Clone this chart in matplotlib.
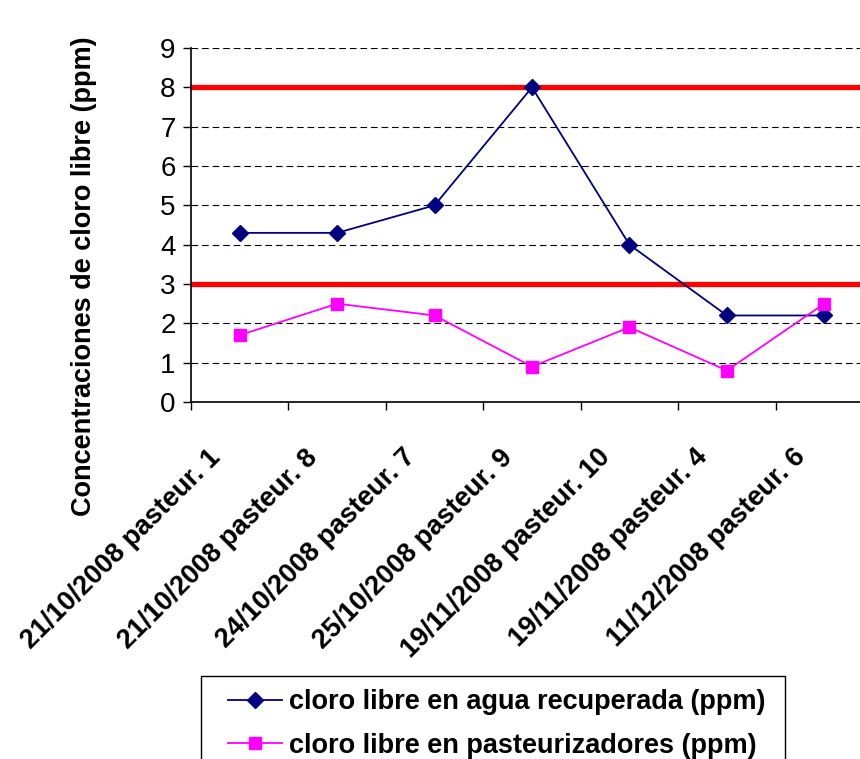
import numpy as np
import matplotlib.pyplot as plt
from matplotlib.lines import Line2D
from matplotlib.patches import Rectangle
from matplotlib.transforms import ScaledTranslation

plt.rcParams["font.family"] = ["Liberation Sans", "DejaVu Sans"]

# free chlorine readings per sampling date / pasteurizer
muestras = [
    "21/10/2008 pasteur. 1",
    "21/10/2008 pasteur. 8",
    "24/10/2008 pasteur. 7",
    "25/10/2008 pasteur. 9",
    "19/11/2008 pasteur. 10",
    "19/11/2008 pasteur. 4",
    "11/12/2008 pasteur. 6",
]
agua_recuperada = [4.3, 4.3, 5.0, 8.0, 4.0, 2.2, 2.2]
pasteurizadores = [1.7, 2.5, 2.2, 0.9, 1.9, 0.8, 2.5]
limites = [3, 8]  # acceptable range, ppm

fig = plt.figure(figsize=(8.6, 7.59), dpi=100)
ax = fig.add_axes([191 / 860, 1 - 402 / 759, 682 / 860, 354 / 759])

x = np.arange(len(muestras))
ax.plot(x, agua_recuperada, color="#000080", linewidth=1.3,
        marker="D", markersize=8, label="cloro libre en agua recuperada (ppm)")
ax.plot(x, pasteurizadores, color="#FF00FF", linewidth=1.3,
        marker="s", markersize=8.5, label="cloro libre en pasteurizadores (ppm)")
for lim in limites:
    ax.axhline(lim, color="#FF0000", linewidth=3.8, zorder=1.5)

ax.set_xlim(-0.5, len(muestras) - 0.5)
ax.set_ylim(0, 9)
ax.set_yticks(range(10))
ax.yaxis.grid(True, color="black", linestyle=(0, (6, 3.5)), linewidth=0.8)
ax.set_axisbelow(True)

for sp in ["top", "right"]:
    ax.spines[sp].set_visible(False)
for sp in ["left", "bottom"]:
    ax.spines[sp].set_linewidth(1.2)

ax.tick_params(axis="y", length=6, width=1, pad=5, labelsize=20)

# labels centred on categories, tick marks on category boundaries
ax.set_xticks(x)
ax.set_xticklabels(muestras, rotation=45, ha="right", va="center",
                   rotation_mode="anchor", fontsize=19.5, fontweight="bold")
ax.tick_params(axis="x", which="major", length=0, pad=37)
ax.set_xticks(np.arange(-0.5, len(muestras), 1), minor=True)
ax.tick_params(axis="x", which="minor", length=6, width=1)
shift = ScaledTranslation(-23 / 100, 0, fig.dpi_scale_trans)
for lab in ax.get_xticklabels():
    lab.set_transform(lab.get_transform() + shift)

ax.set_ylabel("Concentraciones de cloro libre (ppm)", fontsize=19.5, fontweight="bold")
ax.yaxis.set_label_coords((97 - 191) / 682, (402 - 276) / 354)

# legend box drawn separately so it can run off the bottom edge
fig.patches.append(Rectangle((201 / 860, -0.05), 584 / 860, 0.05 + 1 - 676 / 759,
                             transform=fig.transFigure, facecolor="white",
                             edgecolor="black", linewidth=1))
handles = [
    Line2D([], [], color="#000080", linewidth=1.3, marker="D", markersize=8),
    Line2D([], [], color="#FF00FF", linewidth=1.3, marker="s", markersize=8.5),
]
fig.legend(handles, ["cloro libre en agua recuperada (ppm)",
                     "cloro libre en pasteurizadores (ppm)"],
           loc="upper left", bbox_to_anchor=(228 / 860, 1 - 689 / 759),
           frameon=False, borderpad=0, borderaxespad=0,
           handlelength=2.0, handletextpad=0.27, labelspacing=0.66,
           prop={"size": 19.5, "weight": "bold"})

fig.savefig("out.png", dpi=100)
